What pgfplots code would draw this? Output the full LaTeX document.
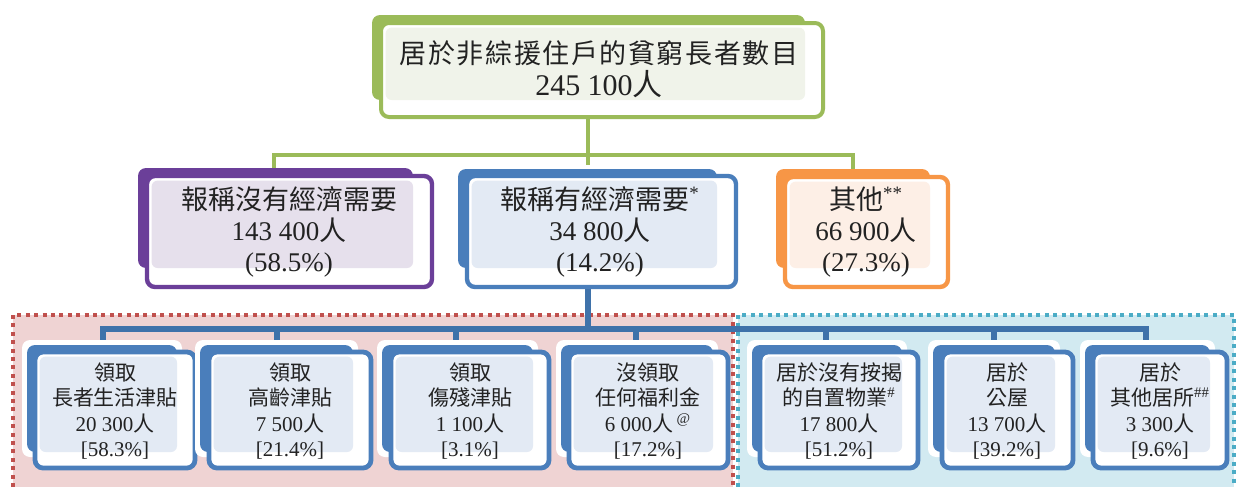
\documentclass[border=0pt]{standalone}
\usepackage{pgfplots}
\pgfplotsset{compat=1.18}
\usepackage{fontspec}
\setmainfont{Liberation Serif}
\newfontfamily\cjk{Noto Sans CJK TC}
\definecolor{cG}{HTML}{9BBB59}
\definecolor{cGL}{HTML}{F0F3EA}
\definecolor{cP}{HTML}{6B3F99}
\definecolor{cPL}{HTML}{E6E0EC}
\definecolor{cB}{HTML}{4A7EBB}
\definecolor{cBL}{HTML}{E3EAF4}
\definecolor{cO}{HTML}{F79646}
\definecolor{cOL}{HTML}{FDEFE6}
\definecolor{cLine}{HTML}{3F72AA}
\definecolor{cRed}{HTML}{C0504D}
\definecolor{cPink}{HTML}{EFD3D3}
\definecolor{cCyan}{HTML}{4BACC6}
\definecolor{cCyanF}{HTML}{D2EAF1}
\definecolor{cTxt}{HTML}{222222}
\tikzset{
 gH/.style={}, gD/.style={fill=cG}, gF/.style={draw=cG, fill=white, line width=2pt}, gL/.style={fill=cGL},
 pH/.style={}, pD/.style={fill=cP}, pF/.style={draw=cP, fill=white, line width=2.2pt}, pL/.style={fill=cPL},
 bH/.style={}, bD/.style={fill=cB}, bF/.style={draw=cB, fill=white, line width=2.2pt}, bL/.style={fill=cBL},
 oH/.style={}, oD/.style={fill=cO}, oF/.style={draw=cO, fill=white, line width=2.2pt}, oL/.style={fill=cOL},
 uH/.style={fill=white}, uD/.style={fill=cB}, uF/.style={draw=cB, fill=white, line width=2.4pt}, uL/.style={fill=cBL},
 tt/.style={align=center, text=cTxt, font=\fontsize{13.5}{16}\selectfont},
 mt/.style={align=center, text=cTxt, font=\fontsize{13.5}{15.5}\selectfont},
 bt/.style={align=center, text=cTxt, font=\fontsize{10.5}{12.8}\selectfont},
}
% #1-#4 back box, #5-#8 front box (pixel units, y downwards), #9 style prefix
\newcommand{\obox}[9]{%
 \path[#9H, rounded corners=4pt] ([shift={(-2.5pt,2.5pt)}]axis cs:#1,#2) rectangle ([shift={(2.5pt,-2.5pt)}]axis cs:#3,#4);
 \path[#9D, rounded corners=4pt] (axis cs:#1,#2) rectangle (axis cs:#3,#4);
 \path[#9F, rounded corners=4pt] (axis cs:#5,#6) rectangle (axis cs:#7,#8);
 \path[#9L, rounded corners=3pt] ([shift={(2.3pt,-2.3pt)}]axis cs:#5,#6) rectangle (axis cs:#3,#4);
}
\newcommand{\drop}[1]{\draw[cLine, line width=2.6pt] (axis cs:#1,329) -- (axis cs:#1,345);}
\newcommand{\ls}{\hspace{0.8pt}}
\begin{document}
\begin{tikzpicture}
\begin{axis}[at={(0,0)}, anchor=south west, width=619pt, height=243.5pt, scale only axis,
  xmin=0, xmax=1238, ymin=0, ymax=487, y dir=reverse, axis lines=none, clip=false]
\addplot[draw=none, forget plot] coordinates {(0,0) (1238,487)};
% group regions
\fill[cPink] (axis cs:13,315) rectangle (axis cs:733,487);
\fill[cCyanF] (axis cs:738,315) rectangle (axis cs:1234,487);
\draw[cRed, line width=1.8pt, dash pattern=on 2pt off 2.2pt] (axis cs:13,487) -- (axis cs:13,315) -- (axis cs:733,315) -- (axis cs:733,487);
\draw[cCyan, line width=1.8pt, dash pattern=on 2pt off 2.2pt] (axis cs:738,487) -- (axis cs:738,315) -- (axis cs:1234,315) -- (axis cs:1234,487);
% connectors
\draw[cG, line width=2pt] (axis cs:588,110) -- (axis cs:588,165);
\draw[cG, line width=2pt] (axis cs:274,172) -- (axis cs:274,155) -- (axis cs:853,155) -- (axis cs:853,172);
\draw[cLine, line width=2.6pt] (axis cs:588,285) -- (axis cs:588,329);
\draw[cLine, line width=2.6pt] (axis cs:103,345) -- (axis cs:103,329) -- (axis cs:1146,329) -- (axis cs:1146,345);
\drop{277}
\drop{456}
\drop{636}
\drop{826}
\drop{994}
% boxes
\obox{372}{15}{805}{100}{381}{23}{823}{117}{g}
\obox{138}{168}{413}{268}{147}{176}{432}{287}{p}
\obox{458}{169}{717}{268}{467}{176}{736}{287}{b}
\obox{776}{169}{930}{268}{785}{177}{948}{287}{o}
\obox{27}{345}{177}{452}{35}{352}{195}{468}{u}
\obox{200}{345}{353}{452}{209}{352}{371}{468}{u}
\obox{382}{345}{533}{452}{391}{352}{549}{468}{u}
\obox{561}{345}{713}{452}{569}{352}{728}{468}{u}
\obox{752}{345}{902}{452}{760}{352}{918}{468}{u}
\obox{933}{345}{1055}{452}{942}{352}{1073}{468}{u}
\obox{1085}{345}{1210}{452}{1093}{352}{1227}{468}{u}
% texts
\node[tt] at (axis cs:599,69) {{\cjk 居\ls 於\ls 非\ls 綜\ls 援\ls 住\ls 戶\ls 的\ls 貧\ls 窮\ls 長\ls 者\ls 數\ls 目}\\{\fontsize{15}{16}\selectfont 245 100{\cjk 人}}};
\node[mt] at (axis cs:289,232) {{\cjk 報稱沒有經濟需要}\\143 400{\cjk 人}\\(58.5\%)};
\node[mt] at (axis cs:600,232) {{\cjk 報稱有經濟需要}\textsuperscript{*}\\34 800{\cjk 人}\\(14.2\%)};
\node[mt] at (axis cs:866,232) {{\cjk 其他}\textsuperscript{**}\\66 900{\cjk 人}\\(27.3\%)};
\node[bt] at (axis cs:115,411) {{\cjk 領取}\\{\cjk 長者生活津貼}\\20 300{\cjk 人}\\{}[58.3\%]};
\node[bt] at (axis cs:290,411) {{\cjk 領取}\\{\cjk 高齡津貼}\\7 500{\cjk 人}\\{}[21.4\%]};
\node[bt] at (axis cs:470,411) {{\cjk 領取}\\{\cjk 傷殘津貼}\\1 100{\cjk 人}\\{}[3.1\%]};
\node[bt] at (axis cs:648,411) {{\cjk 沒領取}\\{\cjk 任何福利金}\\6 000{\cjk 人}\,\textsuperscript{@}\\{}[17.2\%]};
\node[bt] at (axis cs:839,411) {{\cjk 居於沒有按揭}\\{\cjk 的自置物業}\textsuperscript{\#}\\17 800{\cjk 人}\\{}[51.2\%]};
\node[bt] at (axis cs:1007,411) {{\cjk 居於}\\{\cjk 公屋}\\13 700{\cjk 人}\\{}[39.2\%]};
\node[bt] at (axis cs:1160,411) {{\cjk 居於}\\{\cjk 其他居所}\textsuperscript{\#\#}\\3 300{\cjk 人}\\{}[9.6\%]};
\end{axis}
\pgfresetboundingbox
\path (0,0) rectangle (619pt,243.5pt);
\end{tikzpicture}
\end{document}
